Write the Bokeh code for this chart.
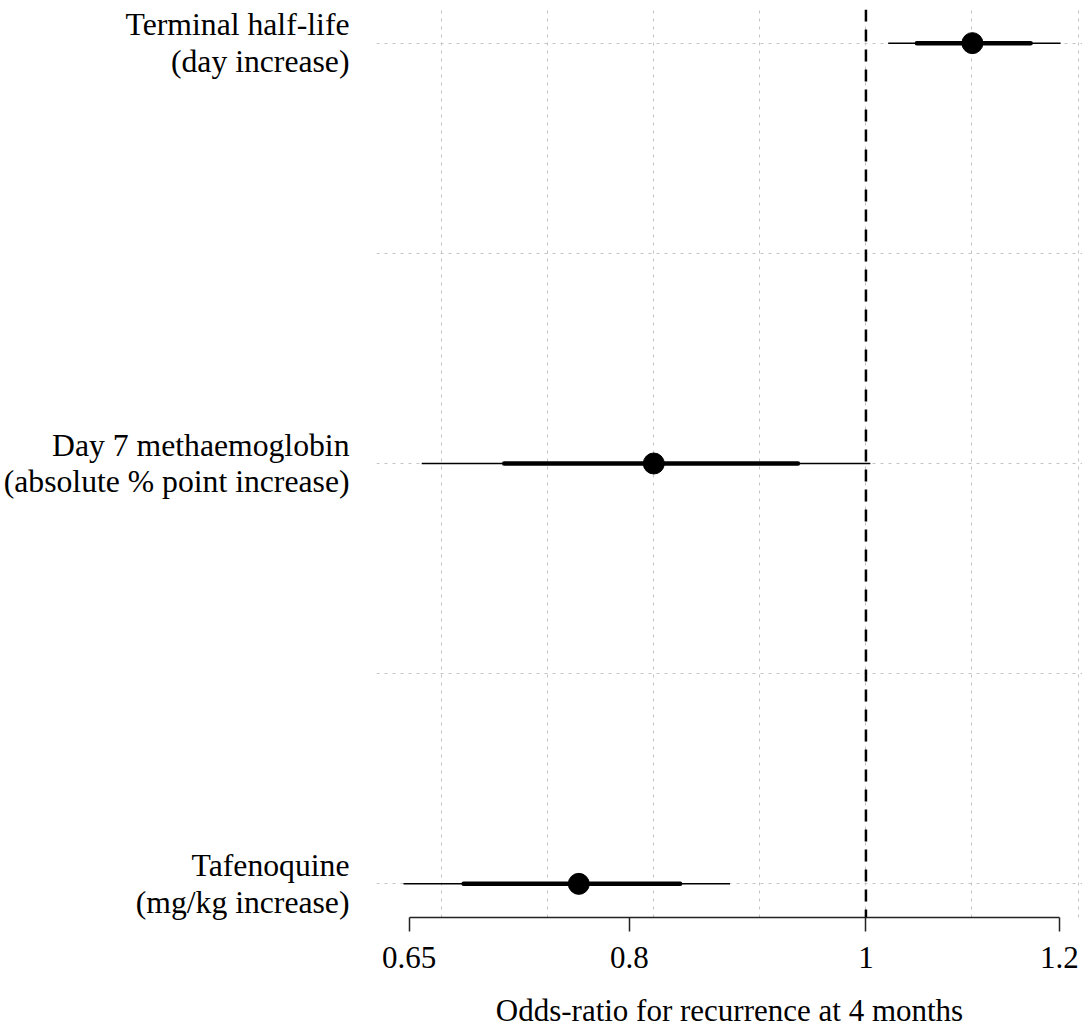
import numpy as np
from bokeh.plotting import figure
from bokeh.models import FixedTicker, Span, ColumnDataSource, Range1d
from bokeh.embed import file_html
from bokeh.resources import INLINE

# ---- data ----
labels_line1 = ["Terminal half-life", "Day 7 methaemoglobin", "Tafenoquine"]
labels_line2 = ["(day increase)", "(absolute % point increase)", "(mg/kg increase)"]
positions = [5, 3, 1]
odds_ratio = [1.1056, 0.8187, 0.7628]
inner_lo = [1.0492, 0.7110, 0.6843]
inner_hi = [1.1680, 0.9379, 0.8393]
outer_lo = [1.0212, 0.6578, 0.6466]
outer_hi = [1.2015, 1.0042, 0.8797]
tick_values = [0.65, 0.8, 1, 1.2]
tick_labels = ["0.65", "0.8", "1", "1.2"]
grid_log_values = [-0.4, -0.3, -0.2, -0.1, 0.0, 0.1, 0.2]
row_grid = [1, 2, 3, 4, 5]
x_title = "Odds-ratio for recurrence at 4 months"

FONT = "Liberation Serif"
FS = "31px"
FS_ROW = "31.7px"

X_LO, X_HI = -0.4615, 0.2042
Y_LO, Y_HI = 0.84, 5.16
W, H = 1082, 1030
TOP, FRAME_H = 9, 908

p = figure(width=W, height=H, x_axis_type="log", y_axis_location="left",
           x_range=Range1d(float(np.exp(X_LO)), float(np.exp(X_HI))),
           y_range=Range1d(Y_LO, Y_HI),
           output_backend="svg", toolbar_location=None,
           min_border_left=375, min_border_right=0, min_border_top=TOP,
           min_border_bottom=H - TOP - FRAME_H)
p.outline_line_color = None
p.background_fill_color = "white"
p.border_fill_color = "white"

# x axis
xa = p.xaxis[0]
xa.ticker = FixedTicker(ticks=tick_values, minor_ticks=[])
xa.major_label_overrides = dict(zip(tick_values, tick_labels))
xa.bounds = (min(tick_values), max(tick_values))
xa.major_tick_out = 14
xa.major_tick_in = 0
xa.minor_tick_out = 0
xa.minor_tick_in = 0
xa.axis_line_width = 1.5
xa.axis_line_color = "#222222"
xa.major_tick_line_width = 1.5
xa.major_tick_line_color = "#222222"
xa.major_label_text_font = FONT
xa.major_label_text_font_size = FS
xa.major_label_text_color = "black"
xa.major_label_standoff = 15
xa.axis_label = x_title
xa.axis_label_text_font = FONT
xa.axis_label_text_font_size = FS
xa.axis_label_text_font_style = "normal"
xa.axis_label_text_color = "black"
xa.axis_label_standoff = 22

# y axis: row labels only
ya = p.yaxis[0]
ya.ticker = FixedTicker(ticks=positions, minor_ticks=[])
ya.major_label_overrides = {pos: f"{a}\n{b}" for pos, a, b in zip(positions, labels_line1, labels_line2)}
ya.axis_line_color = None
ya.major_tick_line_color = None
ya.major_tick_out = 0
ya.major_tick_in = 0
ya.minor_tick_out = 0
ya.minor_tick_in = 0
ya.major_label_standoff = 27
ya.major_label_text_font = FONT
ya.major_label_text_font_size = FS_ROW
ya.major_label_text_line_height = 1.05
ya.major_label_text_color = "black"

# grids
gx = p.xgrid[0]
gx.ticker = FixedTicker(ticks=[float(np.exp(v)) for v in grid_log_values])
gy = p.ygrid[0]
gy.ticker = FixedTicker(ticks=row_grid)
for g in (gx, gy):
    g.grid_line_color = "#c4c4c4"
    g.grid_line_width = 1
    g.grid_line_dash = "3 5"

# reference line at OR = 1
p.add_layout(Span(location=1, dimension="height", line_color="black",
                  line_width=2.5, line_dash="12 8"))

src = ColumnDataSource(dict(y=positions, orr=odds_ratio, ilo=inner_lo, ihi=inner_hi,
                            olo=outer_lo, ohi=outer_hi))
p.segment(x0="olo", x1="ohi", y0="y", y1="y", source=src, line_color="black", line_width=1.5)
p.segment(x0="ilo", x1="ihi", y0="y", y1="y", source=src, line_color="black",
          line_width=4.5, line_cap="round")
p.scatter(x="orr", y="y", source=src, marker="circle", size=21,
          fill_color="black", line_color="black")

open("out.html", "w").write(file_html(p, INLINE))
